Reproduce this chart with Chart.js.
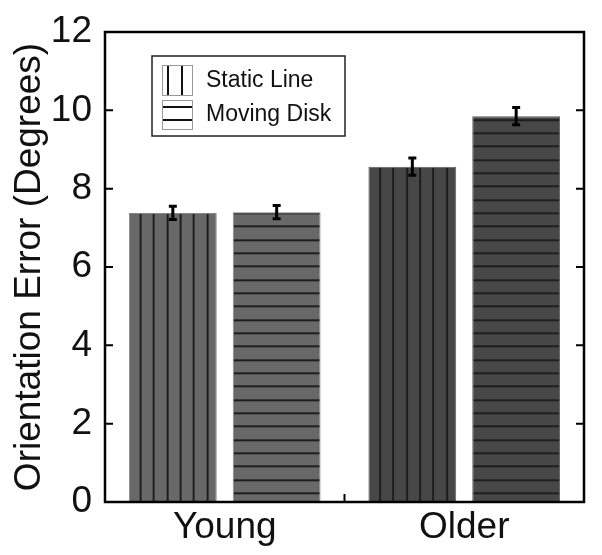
<!DOCTYPE html>
<html>
<head>
<meta charset="utf-8">
<script src="https://cdn.jsdelivr.net/npm/chart.js@4/dist/chart.umd.min.js"></script>
<style>
    html, body { margin: 0; padding: 0; background: #fff; }
    #wrap { width: 602px; height: 555px; }
</style>
</head>
<body>
<div id="wrap"><canvas id="chart" width="602" height="555"></canvas></div>
<script>
// Dados
const groups = ['Young', 'Older'];
const seriesNames = ['Static Line', 'Moving Disk'];
const staticLine = [7.38, 8.56];
const movingDisk = [7.40, 9.85];
const staticErr = [0.17, 0.22];
const movingErr = [0.17, 0.22];
const yTicks = [0, 2, 4, 6, 8, 10, 12];

const FONT = '"Liberation Sans", Arial, sans-serif';

// Padrão de listras (tile de 40px com 3 linhas, ~13.3px de espaçamento)
function makePattern(bg, line, vertical) {
    const c = document.createElement('canvas');
    c.width = 40;
    c.height = 40;
    const g = c.getContext('2d');
    g.fillStyle = bg;
    g.fillRect(0, 0, 40, 40);
    g.fillStyle = line;
    [0, 13, 27].forEach(o => {
        if (vertical) g.fillRect(o, 0, 2, 40);
        else g.fillRect(0, o, 40, 2);
    });
    const p = g.createPattern(c, 'repeat');
    p.vertical = vertical;
    return p;
}

const youngBg = '#686868';
const olderBg = '#474747';
const stripe = '#1e1e1e';

// Alinha as listras com a borda de cada barra
const stripeAlign = {
    id: 'stripeAlign',
    beforeDatasetsDraw(chart) {
        const base = chart.scales.y.getPixelForValue(0);
        chart.data.datasets.forEach((ds, i) => {
            const meta = chart.getDatasetMeta(i);
            meta.data.forEach((bar, j) => {
                const p = ds.backgroundColor[j];
                if (!p || !p.setTransform) return;
                const left = bar.x - bar.width / 2;
                const m = p.vertical
                    ? new DOMMatrix().translate(left + 10.7, 0)
                    : new DOMMatrix().translate(0, base - 9.7);
                p.setTransform(m);
            });
        });
    }
};

// Caixa, ticks internos, barras de erro e legenda
const framePlugin = {
    id: 'frame',
    afterDatasetsDraw(chart) {
        const { ctx, chartArea: a, scales } = chart;
        const y = scales.y;
        const x = scales.x;
        ctx.save();

        // barras de erro
        const errs = [staticErr, movingErr];
        ctx.strokeStyle = '#000';
        ctx.lineWidth = 3;
        chart.data.datasets.forEach((ds, i) => {
            const meta = chart.getDatasetMeta(i);
            meta.data.forEach((bar, j) => {
                const v = ds.data[j];
                const e = errs[i][j];
                const top = y.getPixelForValue(v + e);
                const bot = y.getPixelForValue(v - e);
                const cx = bar.x;
                ctx.beginPath();
                ctx.moveTo(cx, top);
                ctx.lineTo(cx, bot);
                ctx.moveTo(cx - 4, top);
                ctx.lineTo(cx + 4, top);
                ctx.moveTo(cx - 4, bot);
                ctx.lineTo(cx + 4, bot);
                ctx.stroke();
            });
        });

        // moldura
        ctx.lineWidth = 2.5;
        ctx.strokeRect(a.left, a.top, a.right - a.left, a.bottom - a.top);

        // ticks para dentro
        ctx.lineWidth = 2;
        yTicks.forEach(t => {
            if (t === 0 || t === 12) return;
            const py = y.getPixelForValue(t);
            ctx.beginPath();
            ctx.moveTo(a.left, py);
            ctx.lineTo(a.left + 8, py);
            ctx.moveTo(a.right, py);
            ctx.lineTo(a.right - 8, py);
            ctx.stroke();
        });
        const mid = (x.getPixelForValue(0) + x.getPixelForValue(1)) / 2;
        ctx.beginPath();
        ctx.moveTo(mid, a.bottom);
        ctx.lineTo(mid, a.bottom - 8);
        ctx.stroke();

        // legenda
        const lx = 152, ly = 56, lw = 193, lh = 80;
        ctx.lineWidth = 1.5;
        ctx.strokeStyle = '#222';
        ctx.fillStyle = '#fff';
        ctx.fillRect(lx, ly, lw, lh);
        ctx.strokeRect(lx, ly, lw, lh);

        ctx.lineWidth = 1;
        ctx.strokeStyle = '#999';
        ctx.strokeRect(162.5, 65.5, 30, 30);
        ctx.strokeRect(162.5, 100.5, 30, 29);
        ctx.strokeStyle = '#111';
        ctx.lineWidth = 2;
        [168, 182].forEach(px => {
            ctx.beginPath();
            ctx.moveTo(px, 66);
            ctx.lineTo(px, 95);
            ctx.stroke();
        });
        [107, 120].forEach(py => {
            ctx.beginPath();
            ctx.moveTo(163, py);
            ctx.lineTo(192, py);
            ctx.stroke();
        });

        ctx.fillStyle = '#111';
        ctx.font = '23px ' + FONT;
        ctx.textBaseline = 'middle';
        ctx.textAlign = 'left';
        ctx.fillText(seriesNames[0], 206, 81);
        ctx.fillText(seriesNames[1], 206, 115);

        ctx.restore();
    }
};

new Chart(document.getElementById('chart'), {
    type: 'bar',
    data: {
        labels: groups,
        datasets: [
            {
                label: seriesNames[0],
                data: staticLine,
                backgroundColor: [makePattern(youngBg, stripe, true), makePattern(olderBg, stripe, true)],
                borderColor: ['#858585', '#5e5e5e'],
                borderWidth: 1,
                categoryPercentage: 0.867,
                barPercentage: 0.846
            },
            {
                label: seriesNames[1],
                data: movingDisk,
                backgroundColor: [makePattern(youngBg, stripe, false), makePattern(olderBg, stripe, false)],
                borderColor: ['#858585', '#5e5e5e'],
                borderWidth: 1,
                categoryPercentage: 0.867,
                barPercentage: 0.846
            }
        ]
    },
    options: {
        responsive: false,
        animation: false,
        devicePixelRatio: 1,
        layout: { padding: { top: 32, right: 18, left: 8, bottom: 0 } },
        plugins: {
            legend: { display: false },
            tooltip: { enabled: false }
        },
        scales: {
            x: {
                grid: { display: false, drawTicks: false },
                border: { display: false },
                ticks: {
                    color: '#111',
                    font: { family: FONT, size: 37 },
                    padding: 4
                },
                afterFit(s) { s.height = 53; }
            },
            y: {
                min: 0,
                max: 12,
                grid: { display: false, drawTicks: false },
                border: { display: false },
                afterBuildTicks(s) { s.ticks = yTicks.map(v => ({ value: v })); },
                ticks: {
                    color: '#111',
                    font: { family: FONT, size: 37, lineHeight: 1.0 },
                    padding: 13
                },
                title: {
                    display: true,
                    text: 'Orientation Error (Degrees)',
                    color: '#111',
                    font: { family: FONT, size: 37 },
                    padding: { top: 0, bottom: 0 }
                },
                afterFit(s) { s.width = 97; }
            }
        }
    },
    plugins: [stripeAlign, framePlugin]
});
</script>
</body>
</html>
